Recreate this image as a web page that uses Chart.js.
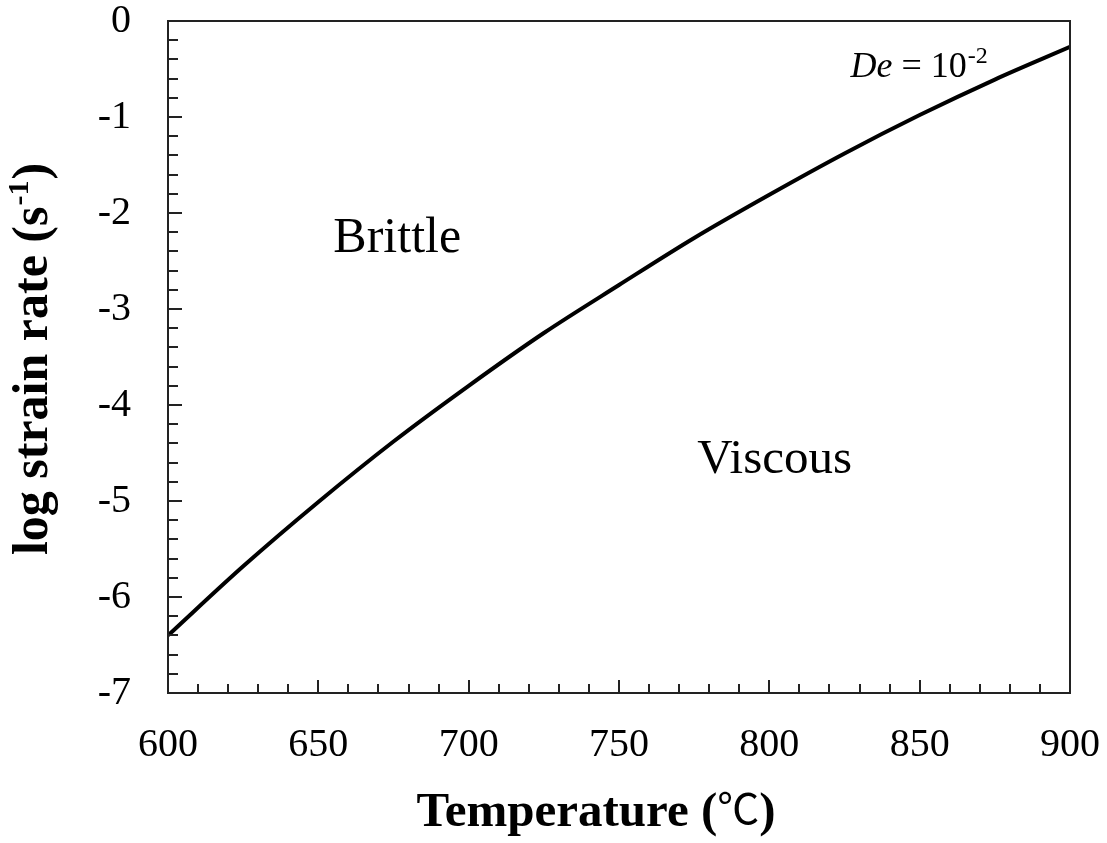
<!DOCTYPE html>
<html>
<head>
<meta charset="utf-8">
<script src="https://cdn.jsdelivr.net/npm/chart.js@4.4.0/dist/chart.umd.min.js"></script>
<style>
  html, body { margin: 0; padding: 0; background: #fff; }
  #wrap { width: 1107px; height: 843px; }
</style>
</head>
<body>
<div id="wrap"><canvas id="myChart" width="1107" height="843"></canvas></div>
<script>
// values
const temperatures = [600, 625, 650, 675, 700, 725, 750, 775, 800, 825, 850, 875, 900];
const logStrainRate = [-6.40, -5.68, -5.01, -4.38, -3.80, -3.25, -2.75, -2.26, -1.81, -1.38, -0.98, -0.61, -0.27];
const xTickValues = [600, 650, 700, 750, 800, 850, 900];
const yTickValues = [0, -1, -2, -3, -4, -5, -6, -7];

const serif = "'Liberation Serif', 'Times New Roman', serif";

// annotation anchors in data units
const brittleAt = { t: 655, v: -2.41 };
const viscousAt = { t: 776, v: -4.71 };
const deAt = { t: 827, v: -0.58 };

const frame = {
  id: 'frame',
  afterDraw(chart) {
    const { ctx, chartArea: a, scales: { x, y } } = chart;
    ctx.save();
    ctx.strokeStyle = '#222';
    ctx.lineWidth = 2;
    ctx.strokeRect(a.left, a.top, a.right - a.left, a.bottom - a.top);

    // inward ticks, minor every 10 C and 0.2 decades
    ctx.beginPath();
    for (let t = 610; t < 900; t += 10) {
      const px = Math.round(x.getPixelForValue(t));
      const len = t % 50 === 0 ? 13 : 9;
      ctx.moveTo(px, a.bottom);
      ctx.lineTo(px, a.bottom - len);
    }
    for (let k = -34; k < 0; k++) {
      const py = Math.round(y.getPixelForValue(k / 5));
      const len = k % 5 === 0 ? 14 : 10;
      ctx.moveTo(a.left, py);
      ctx.lineTo(a.left + len, py);
    }
    ctx.stroke();

    // region labels
    ctx.fillStyle = '#000';
    ctx.textBaseline = 'alphabetic';
    ctx.textAlign = 'left';
    ctx.font = '50px ' + serif;
    ctx.fillText('Brittle', x.getPixelForValue(brittleAt.t), y.getPixelForValue(brittleAt.v));
    ctx.font = '49px ' + serif;
    ctx.fillText('Viscous', x.getPixelForValue(viscousAt.t), y.getPixelForValue(viscousAt.v));

    // De = 10^-2
    let dx = x.getPixelForValue(deAt.t);
    const dy = y.getPixelForValue(deAt.v);
    ctx.font = 'italic 36px ' + serif;
    ctx.fillText('De', dx, dy);
    dx += ctx.measureText('De').width;
    ctx.font = '36px ' + serif;
    ctx.fillText(' = 10', dx, dy);
    dx += ctx.measureText(' = 10').width;
    ctx.font = '24px ' + serif;
    ctx.fillText('-2', dx + 1, dy - 14);

    // x axis title
    const bold = 'bold 49px ' + serif;
    const cjk = "42px 'Noto Sans CJK JP', sans-serif";
    ctx.font = bold;
    const w1 = ctx.measureText('Temperature (').width;
    const w3 = ctx.measureText(')').width;
    ctx.font = cjk;
    const w2 = ctx.measureText('\u2103').width;
    const cx = (a.left + a.right) / 2 - 23;
    let tx = cx - (w1 + w2 + w3) / 2;
    const ty = a.bottom + 133;
    ctx.font = bold;
    ctx.fillText('Temperature (', tx, ty);
    tx += w1;
    ctx.font = cjk;
    ctx.fillText('\u2103', tx, ty - 2);
    tx += w2;
    ctx.font = bold;
    ctx.fillText(')', tx, ty);

    // y axis title, rotated
    const yBold = 'bold 50px ' + serif;
    const ySup = 'bold 30px ' + serif;
    ctx.translate(47, (a.top + a.bottom) / 2 + 3);
    ctx.rotate(-Math.PI / 2);
    ctx.font = yBold;
    const p1 = 'log strain rate (s';
    const s1 = ctx.measureText(p1).width;
    const s3 = ctx.measureText(')').width;
    ctx.font = ySup;
    const s2 = ctx.measureText('-1').width;
    let yx = -(s1 + s2 + s3) / 2;
    ctx.font = yBold;
    ctx.fillText(p1, yx, 0);
    yx += s1;
    ctx.font = ySup;
    ctx.fillText('-1', yx + 1, -19);
    yx += s2 + 2;
    ctx.font = yBold;
    ctx.fillText(')', yx, 0);
    ctx.restore();
  }
};

const ctx = document.getElementById('myChart');

new Chart(ctx, {
  type: 'line',
  data: {
    labels: temperatures,
    datasets: [{
      label: 'De = 10-2',
      data: temperatures.map((t, i) => ({ x: t, y: logStrainRate[i] })),
      borderColor: '#000',
      borderWidth: 4,
      pointRadius: 0,
      cubicInterpolationMode: 'monotone',
      fill: false
    }]
  },
  options: {
    responsive: false,
    animation: false,
    layout: { padding: { top: 21, right: 37, left: 0, bottom: 0 } },
    plugins: {
      legend: { display: false },
      tooltip: { enabled: false }
    },
    scales: {
      x: {
        type: 'linear',
        min: 600,
        max: 900,
        afterBuildTicks: (scale) => { scale.ticks = xTickValues.map(v => ({ value: v })); },
        afterFit: (scale) => {
          scale.height = 150;
          scale.paddingLeft = 0; scale.paddingRight = 0;
        },
        grid: { display: false, drawTicks: false },
        border: { display: false },
        ticks: {
          color: '#000',
          padding: 28,
          maxRotation: 0,
          font: { family: serif, size: 40, lineHeight: 1.2 }
        }
      },
      y: {
        type: 'linear',
        min: -7,
        max: 0,
        afterBuildTicks: (scale) => { scale.ticks = yTickValues.map(v => ({ value: v })); },
        afterFit: (scale) => {
          scale.width = 168;
          scale.paddingTop = 0; scale.paddingBottom = 0;
        },
        grid: { display: false, drawTicks: false },
        border: { display: false },
        ticks: {
          color: '#000',
          padding: 37,
          font: { family: serif, size: 40, lineHeight: 1.2 }
        }
      }
    }
  },
  plugins: [frame]
});
</script>
</body>
</html>
